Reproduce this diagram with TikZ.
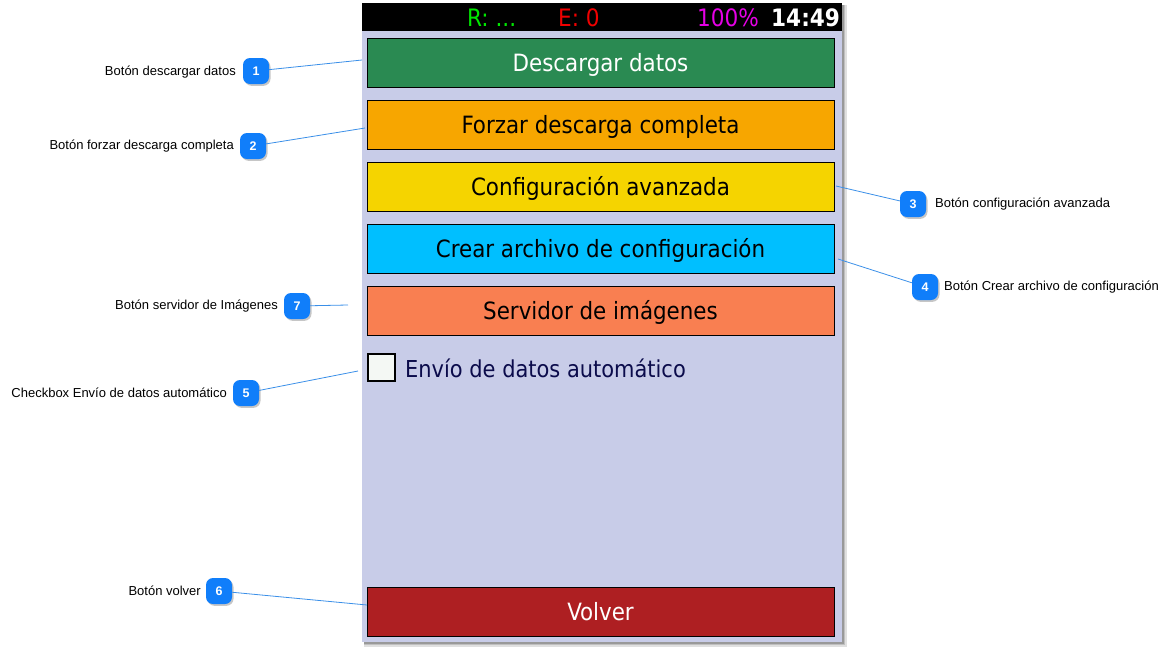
\documentclass[tikz,border=0pt]{standalone}
\usepackage{fontspec}
\setmainfont{Liberation Sans}
\newfontfamily\btnfont{DejaVu Sans Condensed}
\usetikzlibrary{shadows}
\definecolor{panelbg}{RGB}{200,204,232}
\definecolor{bgreen}{RGB}{42,138,82}
\definecolor{borange}{RGB}{247,166,0}
\definecolor{byellow}{RGB}{245,212,0}
\definecolor{bcyan}{RGB}{0,191,255}
\definecolor{bcoral}{RGB}{249,127,81}
\definecolor{bred}{RGB}{174,31,34}
\definecolor{badgeblue}{RGB}{16,126,250}
\definecolor{lineblue}{RGB}{58,143,232}
\definecolor{navy}{RGB}{11,11,75}
\definecolor{chkfill}{RGB}{244,248,244}
\tikzset{
  btn/.style={draw=black, line width=0.9pt, minimum width=467pt, minimum height=49pt, inner sep=0pt, text height=23pt, text depth=5pt, font=\btnfont\fontsize{23.8}{24}\selectfont},
  badge/.style={fill=badgeblue, rounded corners=7pt, minimum width=26pt, minimum height=26pt, inner sep=0pt, text=white, font=\bfseries\fontsize{12.5}{12.5}\selectfont, drop shadow={shadow xshift=1.5pt, shadow yshift=-1.8pt, opacity=0.45}},
  lbl/.style={font=\fontsize{13}{13}\selectfont, inner sep=0pt},
  conn/.style={draw=lineblue, line width=0.8pt},
  bartxt/.style={anchor=base west, inner sep=0pt, font=\btnfont\fontsize{24}{24}\selectfont}
}
\begin{document}
\begin{tikzpicture}[x=1pt,y=-1pt]
\useasboundingbox (0,0) rectangle (1171,665);
% panel shadow and panel
\fill[black!12] (364,5) rectangle (847,647);
\fill[black!25] (364,5) rectangle (845,645);
\fill[black!40] (364,5) rectangle (844,644);
\fill[panelbg] (362,3) rectangle (842,642);
\fill[black] (362,3) rectangle (842,31);
% status bar
\node[bartxt, text={rgb,255:red,0;green,230;blue,0}] (r) at (467,26) {R: ...};
\node[bartxt, text={rgb,255:red,240;green,0;blue,0}] (e) at (558,26) {E: 0};
\node[bartxt, text={rgb,255:red,230;green,0;blue,230}] (pct) at (697,26) {100\%};
\node[bartxt, text=white, font=\btnfont\bfseries\fontsize{24}{24}\selectfont] (time) at (771,26) {14:49};
% buttons
\node[btn, fill=bgreen, text=white] (btn1) at (600.5,62.5) {Descargar datos};
\node[btn, fill=borange, text=black] (btn2) at (600.5,124.5) {Forzar descarga completa};
\node[btn, fill=byellow, text=black] (btn3) at (600.5,186.5) {Configuración avanzada};
\node[btn, fill=bcyan, text=black] (btn4) at (600.5,248.5) {Crear archivo de configuración};
\node[btn, fill=bcoral, text=black] (btn5) at (600.5,310.5) {Servidor de imágenes};
\node[draw=black, line width=2pt, fill=chkfill, minimum width=27pt, minimum height=27pt, inner sep=0pt] (chk) at (381.5,367.5) {};
\node[anchor=base west, inner sep=0pt, text=navy, font=\btnfont\fontsize{23.3}{24}\selectfont] (chktxt) at (405,377) {Envío de datos automático};
\node[btn, fill=bred, text=white] (btn6) at (600.5,611.5) {Volver};
% connector free ends
\coordinate (c1) at (362,60);
\coordinate (c2) at (365,128);
\coordinate (c3) at (836,186);
\coordinate (c4) at (838,259);
\coordinate (c7) at (348,305);
\coordinate (c5) at (358,371);
\coordinate (c6) at (367,605);
% badges
\node[badge] (b1) at (256,71) {1};
\node[badge] (b2) at (253,146) {2};
\node[badge] (b3) at (913,204) {3};
\node[badge] (b4) at (925,287) {4};
\node[badge] (b7) at (297,306) {7};
\node[badge] (b5) at (246,393) {5};
\node[badge] (b6) at (219,591) {6};
% connectors
\draw[conn] (b1) -- (c1);
\draw[conn] (b2) -- (c2);
\draw[conn] (c3) -- (b3);
\draw[conn] (c4) -- (b4);
\draw[conn] (b7) -- (c7);
\draw[conn] (b5) -- (c5);
\draw[conn] (b6) -- (c6);
% labels
\node[lbl, anchor=east] (l1) at (236,72) {Botón descargar datos};
\node[lbl, anchor=east] (l2) at (234,146) {Botón forzar descarga completa};
\node[lbl, anchor=west] (l3) at (935,204) {Botón configuración avanzada};
\node[lbl, anchor=west] (l4) at (944,287) {Botón Crear archivo de configuración};
\node[lbl, anchor=east] (l7) at (278,306) {Botón servidor de Imágenes};
\node[lbl, anchor=east] (l5) at (227,393) {Checkbox Envío de datos automático};
\node[lbl, anchor=east] (l6) at (201,591) {Botón volver};
\end{tikzpicture}
\end{document}
